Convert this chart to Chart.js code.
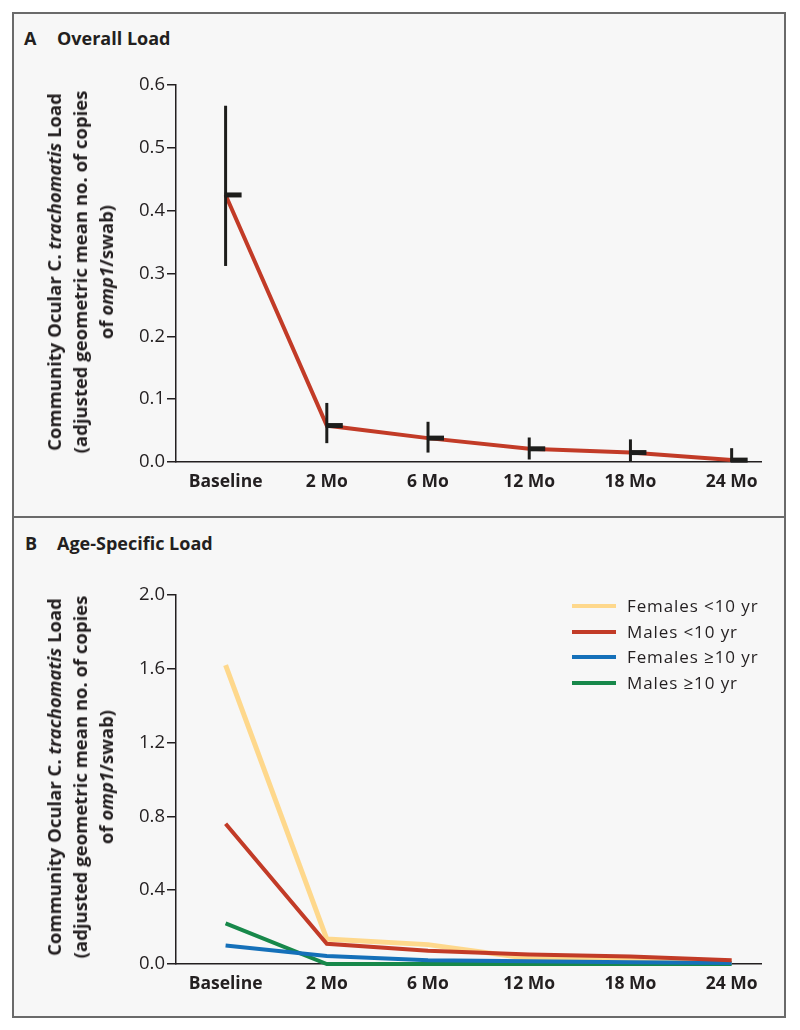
<!DOCTYPE html>
<html>
<head>
<meta charset="utf-8">
<script src="https://cdn.jsdelivr.net/npm/chart.js@4.4.1/dist/chart.umd.min.js"></script>
<style>
  body { margin: 0; background: #fff; font-family: "Open Sans", sans-serif; color: #231f20; }
  #frame { position: absolute; left: 12px; top: 12px; width: 774px; height: 1006px;
    border: 2px solid #6a6a6a; background: #f7f7f7; box-sizing: border-box; }
  #divider { position: absolute; left: 12px; top: 516px; width: 774px; height: 2px; background: #6a6a6a; }
  canvas { position: absolute; left: 0; }
  .panel-title { position: absolute; font-size: 18px; font-weight: 700; line-height: 20px; }
  .panel-title span { position: absolute; white-space: nowrap; }
  .ytitle { position: absolute; white-space: nowrap; text-align: center; font-weight: 700;
    font-size: 18.5px; line-height: 26px; transform: translate(-50%, -50%) rotate(-90deg); }
  .legend { position: absolute; left: 572px; top: 593px; font-size: 17px; letter-spacing: 0.9px; }
  .legend div { position: relative; height: 25.5px; line-height: 25.5px; padding-left: 55px; white-space: nowrap; }
  .legend i { position: absolute; left: 0; top: 11px; width: 44px; height: 4px; }
</style>
</head>
<body>
<div id="frame"></div>
<div id="divider"></div>

<div class="panel-title" style="left:0; top:28px;">
  <span style="left:24px">A</span><span style="left:57px">Overall Load</span>
</div>
<div class="panel-title" style="left:0; top:533px;">
  <span style="left:25px">B</span><span style="left:57px">Age-Specific Load</span>
</div>

<canvas id="overallChart" width="800" height="516" style="top:0"></canvas>
<canvas id="ageChart" width="800" height="499" style="top:518px"></canvas>

<div class="ytitle" style="left:80px; top:272px;">Community Ocular C. <i>trachomatis</i> Load<br>(adjusted geometric mean no. of copies<br>of <i>omp1</i>/swab)</div>
<div class="ytitle" style="left:80px; top:777px;">Community Ocular C. <i>trachomatis</i> Load<br>(adjusted geometric mean no. of copies<br>of <i>omp1</i>/swab)</div>

<div class="legend" id="legend"></div>

<script>
// Data
const timepoints = ['Baseline', '2 Mo', '6 Mo', '12 Mo', '18 Mo', '24 Mo'];

const overallMean = [0.425, 0.058, 0.038, 0.021, 0.015, 0.003];
const overallLower = [0.312, 0.030, 0.015, 0.004, 0.0, 0.0];
const overallUpper = [0.567, 0.094, 0.064, 0.039, 0.036, 0.022];

const femalesUnder10 = [1.62, 0.135, 0.105, 0.03, 0.025, 0.012];
const malesUnder10 = [0.76, 0.11, 0.072, 0.052, 0.04, 0.02];
const femalesOver10 = [0.10, 0.043, 0.02, 0.015, 0.01, 0.005];
const malesOver10 = [0.22, 0.0, 0.0, 0.0, 0.0, 0.0];

const overallTicks = [0, 0.1, 0.2, 0.3, 0.4, 0.5, 0.6];
const ageTicks = [0, 0.4, 0.8, 1.2, 1.6, 2.0];

const ink = '#231f20';
const font = '"Open Sans", sans-serif';

Chart.defaults.font.family = font;
Chart.defaults.color = ink;

const toPoints = (arr) => arr.map((v, i) => ({ x: i, y: v }));

function xScale() {
  return {
    type: 'linear',
    min: -0.49,
    max: 5.29,
    z: 1,
    afterBuildTicks: (s) => { s.ticks = timepoints.map((t, i) => ({ value: i })); },
    afterFit: (s) => { s.height = 40; },
    ticks: {
      autoSkip: false,
      maxRotation: 0,
      padding: 10,
      color: ink,
      font: { size: 17.5, weight: 'bold' },
      callback: (v) => timepoints[v],
    },
    grid: { display: false, drawTicks: false },
    border: { display: true, color: ink, width: 1.5 },
  };
}

function yScale(max, ticks) {
  return {
    min: 0,
    max: max,
    z: 1,
    afterBuildTicks: (s) => { s.ticks = ticks.map((v) => ({ value: v })); },
    afterFit: (s) => { s.width = 60; },
    ticks: {
      padding: 2,
      color: ink,
      font: { size: 18.5 },
      callback: (v) => v.toFixed(1),
    },
    grid: { display: true, drawOnChartArea: false, drawTicks: true, tickLength: 9, color: ink, lineWidth: 1.5 },
    border: { display: true, color: ink, width: 1.5 },
  };
}

// Error bars with a mean mark to the right
const errorBars = {
  id: 'errorBars',
  afterDatasetsDraw(chart) {
    const { ctx, scales: { x, y } } = chart;
    ctx.save();
    ctx.strokeStyle = '#1d1d1b';
    ctx.lineCap = 'butt';
    overallMean.forEach((m, i) => {
      const px = x.getPixelForValue(i);
      ctx.lineWidth = 3;
      ctx.beginPath();
      ctx.moveTo(px, y.getPixelForValue(overallUpper[i]));
      ctx.lineTo(px, y.getPixelForValue(overallLower[i]));
      ctx.stroke();
      ctx.lineWidth = 5;
      ctx.beginPath();
      ctx.moveTo(px - 1, y.getPixelForValue(m));
      ctx.lineTo(px + 16, y.getPixelForValue(m));
      ctx.stroke();
    });
    ctx.restore();
  },
};

new Chart(document.getElementById('overallChart'), {
  type: 'line',
  data: {
    datasets: [
      {
        label: 'Overall Load',
        data: toPoints(overallMean),
        borderColor: '#c23b27',
        borderWidth: 4,
        pointRadius: 0,
        tension: 0,
        clip: false,
      },
    ],
  },
  options: {
    responsive: false,
    animation: false,
    layout: { padding: { left: 116, top: 85, right: 39, bottom: 14 } },
    plugins: { legend: { display: false }, tooltip: { enabled: false } },
    scales: { x: xScale(), y: yScale(0.6, overallTicks) },
  },
  plugins: [errorBars],
});

const ageSeries = [
  { label: 'Females <10 yr', data: femalesUnder10, color: '#fed88c', width: 5, order: 2 },
  { label: 'Males <10 yr', data: malesUnder10, color: '#c23b27', width: 4, order: 0 },
  { label: 'Females \u226510 yr', data: femalesOver10, color: '#1570b9', width: 4, order: 1 },
  { label: 'Males \u226510 yr', data: malesOver10, color: '#17884a', width: 4, order: 3 },
];

new Chart(document.getElementById('ageChart'), {
  type: 'line',
  data: {
    datasets: ageSeries.map((s) => ({
      label: s.label,
      data: toPoints(s.data),
      borderColor: s.color,
      borderWidth: s.width,
      order: s.order,
      pointRadius: 0,
      tension: 0,
      clip: false,
    })),
  },
  options: {
    responsive: false,
    animation: false,
    layout: { padding: { left: 116, top: 77, right: 39, bottom: 13 } },
    plugins: { legend: { display: false }, tooltip: { enabled: false } },
    scales: { x: xScale(), y: yScale(2.0, ageTicks) },
  },
});

// Legend
const legendEl = document.getElementById('legend');
ageSeries.forEach((s) => {
  const row = document.createElement('div');
  const swatch = document.createElement('i');
  swatch.style.background = s.color;
  row.appendChild(swatch);
  row.appendChild(document.createTextNode(s.label));
  legendEl.appendChild(row);
});
</script>
</body>
</html>
